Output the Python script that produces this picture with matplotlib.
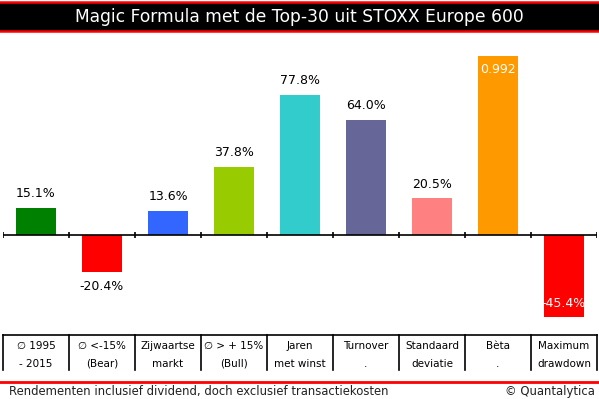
import matplotlib
matplotlib.use('Agg')
import matplotlib.pyplot as plt
import matplotlib.transforms as mtransforms
from matplotlib.lines import Line2D
from matplotlib.patches import Rectangle

# data (beta 0.992 drawn as 99.2 on the same scale)
categories = ['\u2205 1995\n- 2015', '\u2205 <-15%\n(Bear)', 'Zijwaartse\nmarkt',
              '\u2205 > + 15%\n(Bull)', 'Jaren\nmet winst', 'Turnover\n.',
              'Standaard\ndeviatie', 'B\u00e8ta\n.', 'Maximum\ndrawdown']
values = [15.1, -20.4, 13.6, 37.8, 77.8, 64.0, 20.5, 99.2, -45.4]
value_labels = ['15.1%', '-20.4%', '13.6%', '37.8%', '77.8%', '64.0%', '20.5%', '0.992', '-45.4%']
inside = [False, False, False, False, False, False, False, True, True]
bar_colors = ['#008000', '#ff0000', '#3366ff', '#99cc00', '#33cccc',
              '#666699', '#ff8080', '#ff9900', '#ff0000']

title = 'Magic Formula met de Top-30 uit STOXX Europe 600'
footer_left = 'Rendementen inclusief dividend, doch exclusief transactiekosten'
footer_right = '\u00a9 Quantalytica'

W, H = 599, 399
plt.rcParams['font.family'] = ['DejaVu Sans']

fig = plt.figure(figsize=(W / 100, H / 100), dpi=100)
fig.patch.set_facecolor('white')

def fy(py):
    # pixel row from top -> figure fraction
    return 1 - py / H

# title bar
fig.patches.append(Rectangle((0, fy(31)), 1, (31 - 2) / H, transform=fig.transFigure,
                             facecolor='black', edgecolor='none'))
for py in (1.5, 31):
    fig.lines.append(Line2D([0, 1], [fy(py)] * 2, transform=fig.transFigure,
                            color='#ff0000', lw=1.8))
fig.text(0.5, fy(17), title, color='white', fontsize=12.3, ha='center', va='center')

# chart
ax_top, ax_bot = 40, 330
ax = fig.add_axes([3 / W, fy(ax_bot), 594 / W, (ax_bot - ax_top) / H])
ax.set_xlim(-0.5, len(values) - 0.5)
scale = 1.8  # px per unit
ax.set_ylim(-(ax_bot - 235) / scale, (235 - ax_top) / scale)
ax.axis('off')

x = list(range(len(values)))
ax.bar(x, values, width=0.6, color=bar_colors, zorder=2)
ax.axhline(0, color='black', lw=1.2, zorder=3)
tick = 3 / scale
ax.vlines([i - 0.5 for i in range(len(values) + 1)], -tick, tick, color='black', lw=1.2, zorder=3)

off = 13 / scale
for i, (v, lab, ins) in enumerate(zip(values, value_labels, inside)):
    if ins:
        y = v - off if v > 0 else v + off
        ax.text(i, y, lab, ha='center', va='center', color='white', fontsize=9, zorder=4)
    else:
        y = v + 14 / scale if v > 0 else v - 15 / scale
        ax.text(i, y, lab, ha='center', va='center', color='black', fontsize=9, zorder=4)

# table under the chart
trans = mtransforms.blended_transform_factory(ax.transData, fig.transFigure)
fig.lines.append(Line2D([-0.5, len(values) - 0.5], [fy(335)] * 2, transform=trans,
                        color='black', lw=1.2))
for i in range(len(values) + 1):
    fig.lines.append(Line2D([i - 0.5] * 2, [fy(335), fy(370)], transform=trans,
                            color='black', lw=1.2))
for i, cat in enumerate(categories):
    top, bottom = cat.split('\n')
    fig.text(i, fy(346), top, transform=trans, ha='center', va='center', fontsize=7.5)
    fig.text(i, fy(364), bottom, transform=trans, ha='center', va='center', fontsize=7.5)

# footer
fig.lines.append(Line2D([0, 1], [fy(382)] * 2, transform=fig.transFigure, color='#ff0000', lw=2))
fig.text(9 / W, fy(392), footer_left, ha='left', va='center', fontsize=8.4, color='#222222')
fig.text(595 / W, fy(392), footer_right, ha='right', va='center', fontsize=8.4, color='#222222')

fig.savefig('out.png', dpi=100)
